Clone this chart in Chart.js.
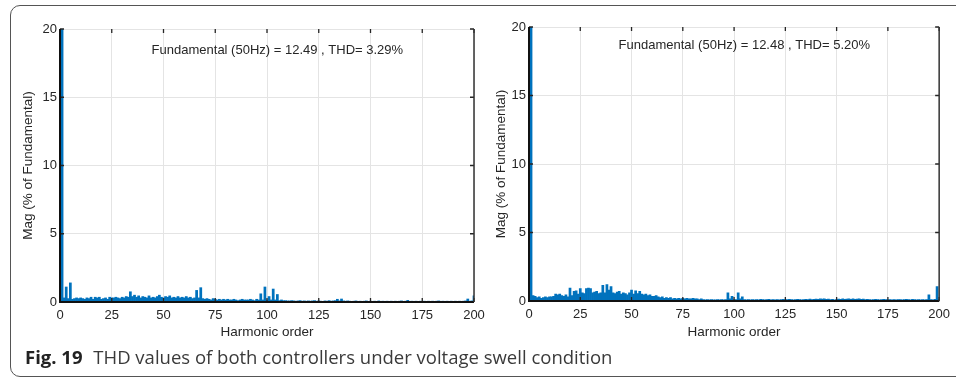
<!DOCTYPE html>
<html>
<head>
<meta charset="utf-8">
<script src="https://cdn.jsdelivr.net/npm/chart.js@4.4.1/dist/chart.umd.min.js"></script>
<style>
  html, body { margin: 0; padding: 0; background: #fff; }
  body { width: 956px; height: 381px; position: relative; overflow: hidden; }
  .frame { position: absolute; left: 10px; top: 5px; width: 980px; height: 372px;
           border: 1px solid #555; border-radius: 10px; box-sizing: border-box; }
  #leftWrap { position: absolute; left: 0; top: 0; width: 500px; height: 345px; }
  #rightWrap { position: absolute; left: 476px; top: 0; width: 480px; height: 345px; }
  .caption { position: absolute; left: 25px; top: 344px; font-family: "Open Sans", sans-serif;
             font-size: 18.5px; color: #3a3a3a; white-space: nowrap; }
  .caption b { color: #222; margin-right: 6px; }
</style>
</head>
<body>
<div class="frame"></div>
<div id="leftWrap"><canvas id="leftChart"></canvas></div>
<div id="rightWrap"><canvas id="rightChart"></canvas></div>
<div class="caption"><b>Fig. 19</b> THD values of both controllers under voltage swell condition</div>
<script>
// magnitude (% of fundamental) per harmonic order 0..200
const leftMag = [
  0.25,
  100, 0.3, 1.1, 0.25, 1.4, 0.2, 0.25, 0.3, 0.25, 0.3,
  0.25, 0.2, 0.3, 0.25, 0.35, 0.2, 0.35, 0.3, 0.35, 0.2,
  0.25, 0.3, 0.2, 0.35, 0.3, 0.3, 0.35, 0.3, 0.25, 0.35,
  0.3, 0.4, 0.35, 0.75, 0.4, 0.5, 0.35, 0.45, 0.3, 0.4,
  0.35, 0.3, 0.45, 0.3, 0.35, 0.3, 0.4, 0.5, 0.35, 0.3,
  0.4, 0.35, 0.45, 0.3, 0.35, 0.3, 0.4, 0.3, 0.35, 0.3,
  0.4, 0.3, 0.35, 0.25, 0.3, 0.85, 0.3, 1.05, 0.25, 0.2,
  0.25, 0.2, 0.15, 0.25, 0.2, 0.15, 0.2, 0.15, 0.2, 0.15,
  0.2, 0.15, 0.15, 0.2, 0.15, 0.1, 0.15, 0.2, 0.15, 0.15,
  0.15, 0.2, 0.15, 0.1, 0.2, 0.15, 0.6, 0.15, 1.1, 0.15,
  0.4, 0.15, 0.95, 0.15, 0.55, 0.1, 0.15, 0.1, 0.1, 0.08,
  0.08, 0.1, 0.08, 0.06, 0.08, 0.1, 0.06, 0.08, 0.06, 0.08,
  0.06, 0.08, 0.1, 0.06, 0.08, 0.06, 0.05, 0.08, 0.06, 0.1,
  0.06, 0.08, 0.1, 0.2, 0.08, 0.22, 0.08, 0.06, 0.08, 0.06,
  0.05, 0.06, 0.08, 0.05, 0.06, 0.05, 0.06, 0.08, 0.05, 0.06,
  0.05, 0.06, 0.05, 0.08, 0.05, 0.06, 0.05, 0.06, 0.05, 0.06,
  0.05, 0.06, 0.05, 0.06, 0.08, 0.05, 0.06, 0.12, 0.05, 0.06,
  0.05, 0.06, 0.05, 0.06, 0.05, 0.06, 0.05, 0.06, 0.05, 0.06,
  0.05, 0.06, 0.08, 0.05, 0.06, 0.05, 0.06, 0.05, 0.06, 0.05,
  0.06, 0.05, 0.06, 0.05, 0.06, 0.08, 0.22, 0.06, 0.08, 0.45
];
const rightMag = [
  0.3,
  100, 0.4, 0.35, 0.25, 0.3, 0.2, 0.25, 0.3, 0.25, 0.3,
  0.3, 0.35, 0.5, 0.45, 0.5, 0.4, 0.35, 0.45, 0.3, 0.95,
  0.4, 0.7, 0.75, 0.5, 0.9, 0.6, 0.55, 0.9, 0.95, 0.9,
  0.6, 0.65, 0.7, 0.55, 0.6, 1.15, 0.6, 1.2, 0.8, 1.05,
  0.6, 0.55, 0.65, 0.7, 0.5, 0.6, 0.55, 0.45, 0.6, 0.8,
  0.5, 0.75, 0.55, 0.7, 0.5, 0.45, 0.5, 0.4, 0.45, 0.35,
  0.35, 0.4, 0.3, 0.25, 0.3, 0.2, 0.25, 0.2, 0.25, 0.15,
  0.2, 0.15, 0.2, 0.15, 0.2, 0.15, 0.2, 0.15, 0.15, 0.2,
  0.15, 0.15, 0.1, 0.15, 0.1, 0.08, 0.1, 0.08, 0.1, 0.08,
  0.08, 0.1, 0.08, 0.1, 0.08, 0.1, 0.6, 0.15, 0.35, 0.1,
  0.1, 0.6, 0.15, 0.3, 0.1, 0.08, 0.1, 0.08, 0.1, 0.08,
  0.1, 0.08, 0.12, 0.1, 0.08, 0.1, 0.12, 0.08, 0.1, 0.08,
  0.1, 0.08, 0.1, 0.12, 0.08, 0.1, 0.12, 0.1, 0.08, 0.1,
  0.12, 0.1, 0.08, 0.1, 0.12, 0.1, 0.14, 0.1, 0.12, 0.14,
  0.12, 0.15, 0.14, 0.16, 0.12, 0.14, 0.1, 0.12, 0.08, 0.1,
  0.14, 0.12, 0.16, 0.12, 0.14, 0.15, 0.12, 0.16, 0.12, 0.14,
  0.15, 0.12, 0.14, 0.1, 0.12, 0.1, 0.08, 0.1, 0.12, 0.1,
  0.08, 0.1, 0.12, 0.1, 0.08, 0.1, 0.08, 0.1, 0.08, 0.1,
  0.1, 0.08, 0.1, 0.12, 0.1, 0.08, 0.12, 0.1, 0.08, 0.1,
  0.08, 0.1, 0.08, 0.1, 0.45, 0.1, 0.08, 0.12, 1.05, 0.1
];
const xTicks = [0, 25, 50, 75, 100, 125, 150, 175, 200];
const yTicks = [0, 5, 10, 15, 20];
const leftNote = 'Fundamental (50Hz) = 12.49 , THD= 3.29%';
const rightNote = 'Fundamental (50Hz) = 12.48 , THD= 5.20%';

const barBlue = '#0072BD';
const ink = '#262626';
const tickFont = { family: 'Liberation Sans, Arial, sans-serif', size: 13 };
const titleFont = { family: 'Liberation Sans, Arial, sans-serif', size: 13.5 };

// matlab style box, inward ticks and the text note
const matlabBox = {
  id: 'matlabBox',
  afterDatasetsDraw(chart, args, opts) {
    const { ctx, chartArea: a, scales: { x, y } } = chart;
    ctx.save();
    ctx.strokeStyle = ink;
    ctx.lineWidth = 1.3;
    ctx.beginPath();
    xTicks.forEach(v => {
      const px = x.getPixelForValue(v);
      ctx.moveTo(px, a.bottom); ctx.lineTo(px, a.bottom - 4);
      ctx.moveTo(px, a.top); ctx.lineTo(px, a.top + 4);
    });
    yTicks.forEach(v => {
      const py = y.getPixelForValue(v);
      ctx.moveTo(a.left, py); ctx.lineTo(a.left + 4, py);
      ctx.moveTo(a.right, py); ctx.lineTo(a.right - 4, py);
    });
    ctx.stroke();
    ctx.lineWidth = 2;
    ctx.strokeStyle = '#111';
    ctx.beginPath();
    ctx.moveTo(a.left, a.top); ctx.lineTo(a.left, a.bottom);
    ctx.lineTo(a.right, a.bottom);
    ctx.stroke();
    ctx.strokeStyle = '#333';
    ctx.lineWidth = 1.5;
    ctx.beginPath();
    ctx.moveTo(a.right, a.top); ctx.lineTo(a.right, a.bottom);
    ctx.stroke();
    ctx.fillStyle = ink;
    ctx.font = '13px "Liberation Sans", Arial, sans-serif';
    ctx.textAlign = 'center';
    ctx.textBaseline = 'middle';
    ctx.fillText(opts.text, x.getPixelForValue(opts.at), a.top + opts.dy);
    ctx.restore();
  }
};

function makeChart(canvasId, mag, note, dims) {
  const ctx = document.getElementById(canvasId);
  return new Chart(ctx, {
    type: 'bar',
    data: {
      datasets: [{
        data: mag.map((v, i) => ({ x: i, y: v })),
        backgroundColor: barBlue,
        borderWidth: 0,
        barPercentage: 1,
        categoryPercentage: 1
      }]
    },
    options: {
      responsive: true,
      maintainAspectRatio: false,
      animation: false,
      events: [],
      layout: { padding: { top: dims.top, right: dims.right, left: 0, bottom: 0 } },
      plugins: {
        legend: { display: false },
        tooltip: { enabled: false },
        matlabBox: { text: note, at: 105, dy: dims.noteDy }
      },
      scales: {
        x: {
          type: 'linear',
          min: 0,
          max: 200,
          offset: false,
          afterBuildTicks: s => { s.ticks = xTicks.map(v => ({ value: v })); },
          afterFit: s => { s.height = dims.xHeight; },
          grid: { color: '#e4e4e4', drawTicks: false, offset: false },
          border: { display: false },
          ticks: { color: ink, font: tickFont, padding: 6, maxRotation: 0, autoSkip: false },
          title: { display: true, text: 'Harmonic order', color: ink, font: titleFont,
                   padding: { top: 0, bottom: 5 } }
        },
        y: {
          min: 0,
          max: 20,
          afterBuildTicks: s => { s.ticks = yTicks.map(v => ({ value: v })); },
          afterFit: s => { s.width = dims.yWidth; },
          grid: { color: '#e4e4e4', drawTicks: false },
          border: { display: false },
          ticks: { color: ink, font: tickFont, padding: 3 },
          title: { display: true, text: 'Mag (% of Fundamental)', color: ink, font: titleFont,
                   padding: { top: dims.yTitlePad, bottom: 0 } }
        }
      }
    },
    plugins: [matlabBox]
  });
}

makeChart('leftChart', leftMag, leftNote,
  { top: 29, right: 26, xHeight: 43, yWidth: 60, yTitlePad: 20, noteDy: 21 });
makeChart('rightChart', rightMag, rightNote,
  { top: 27, right: 12, xHeight: 44, yWidth: 53, yTitlePad: 17, noteDy: 18 });
</script>
</body>
</html>
